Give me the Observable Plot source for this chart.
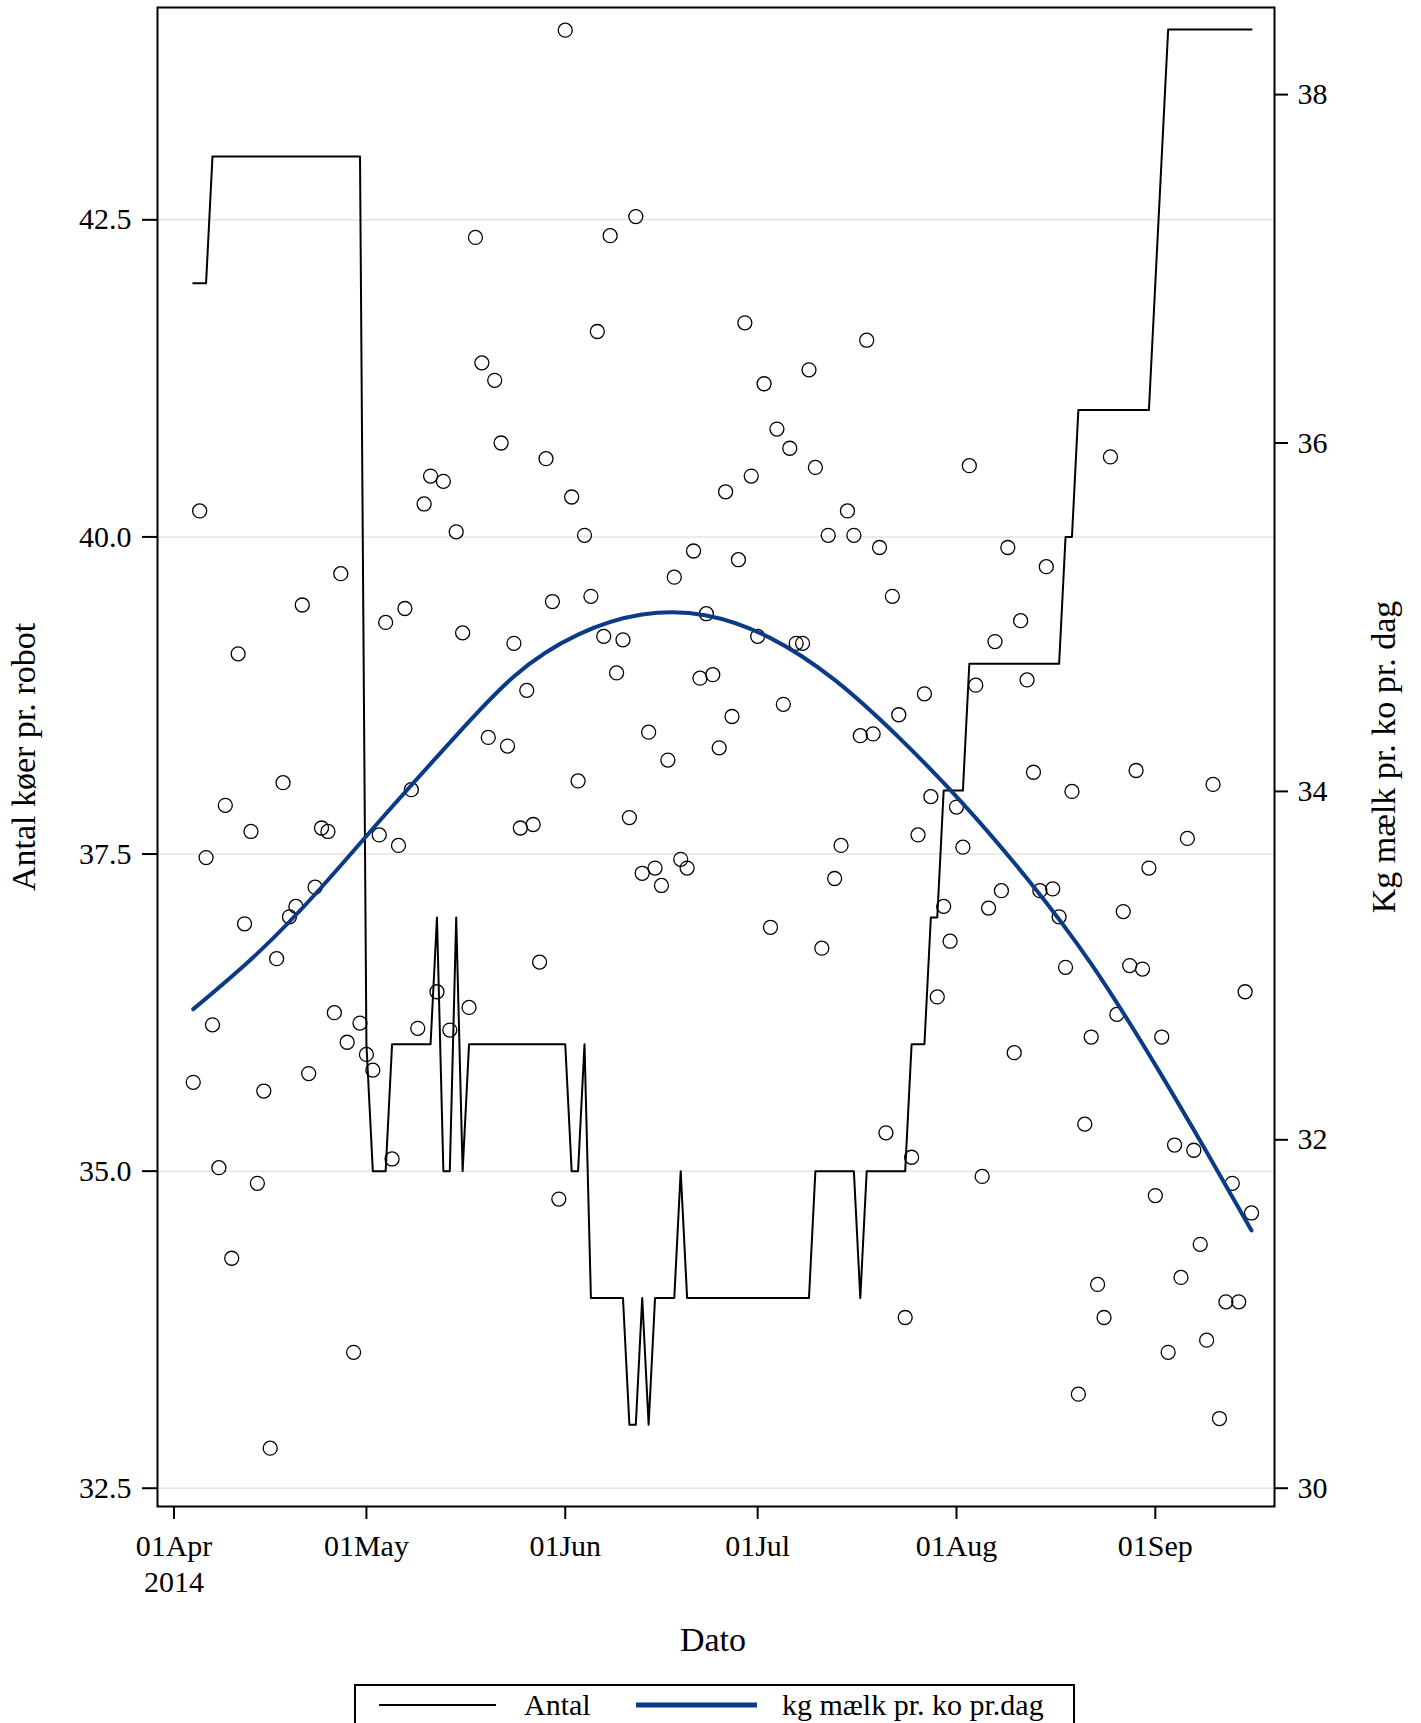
<!DOCTYPE html>
<html><head><meta charset="utf-8">
<script src="https://cdn.jsdelivr.net/npm/d3@7"></script>
<script src="https://cdn.jsdelivr.net/npm/@observablehq/plot@0.6"></script>
<style>
body{margin:0;background:#fff;}
#wrap{position:relative;width:1421px;height:1723px;overflow:hidden;font-family:"Liberation Serif","Times New Roman",serif;}
#wrap svg.layer{position:absolute;left:0;top:0;}
#wrap svg.layer text{font-family:"Liberation Serif","Times New Roman",serif;}
#legend{position:absolute;left:354px;top:1684px;width:721px;height:60px;border:2px solid #000;box-sizing:border-box;background:#fff;}
</style></head><body><div id="wrap"></div>
<script>
// ---- Data ----
// Antal køer pr. robot (vertices of the daily line)
const antalDates = ["2014-04-04","2014-04-06","2014-04-07","2014-04-30","2014-05-01","2014-05-02","2014-05-04","2014-05-05","2014-05-11","2014-05-12","2014-05-13","2014-05-14","2014-05-15","2014-05-16","2014-05-17","2014-06-01","2014-06-02","2014-06-03","2014-06-04","2014-06-05","2014-06-10","2014-06-11","2014-06-12","2014-06-13","2014-06-14","2014-06-15","2014-06-18","2014-06-19","2014-06-20","2014-07-09","2014-07-10","2014-07-16","2014-07-17","2014-07-18","2014-07-24","2014-07-25","2014-07-27","2014-07-28","2014-07-29","2014-07-30","2014-08-02","2014-08-03","2014-08-17","2014-08-18","2014-08-19","2014-08-20","2014-08-31","2014-09-03","2014-09-16"];
const antalValues = [42,42,43,43,36,35,35,36,36,37,35,35,37,35,36,36,35,35,36,34,34,33,33,34,33,34,34,35,34,34,35,35,34,35,35,36,36,37,37,38,38,39,39,40,40,41,41,44,44];

// Kg mælk pr. ko pr. dag, daily from 2014-04-04 to 2014-09-16
const milkFirstDay = "2014-04-04";
const milkLastDay = "2014-09-16";
const milkValues = [32.33,35.61,33.62,32.66,31.84,33.92,31.32,34.79,33.24,33.77,
31.75,32.28,30.23,33.04,34.05,33.28,33.34,35.07,32.38,33.45,
33.79,33.77,32.73,35.25,32.56,30.78,32.67,32.49,32.40,33.75,
34.97,31.89,33.69,35.05,34.01,32.64,35.65,35.81,32.85,35.78,
32.63,35.49,34.91,32.76,37.18,36.46,34.31,36.36,36.00,34.26,
34.85,33.79,34.58,33.81,33.02,35.91,35.09,31.66,38.37,35.69,
34.06,35.47,35.12,36.64,34.89,37.19,34.68,34.87,33.85,37.30,
33.53,34.34,33.56,33.46,34.18,35.23,33.61,33.56,35.38,34.65,
35.02,34.67,34.25,35.72,34.43,35.33,36.69,35.81,34.89,36.34,
33.22,36.08,34.50,35.97,34.85,34.85,36.42,35.86,33.10,35.47,
33.50,33.69,35.61,35.47,34.32,36.59,34.33,35.40,32.04,35.12,
34.44,30.98,31.90,33.75,34.56,33.97,32.82,33.34,33.14,33.91,
33.68,35.87,34.61,31.79,33.33,34.86,33.43,35.40,32.50,34.98,
34.64,34.11,33.43,35.29,33.44,33.28,32.99,34.00,30.54,32.09,
32.59,31.17,30.98,35.92,32.72,33.31,33.00,34.12,32.98,33.56,
31.68,32.59,30.78,31.97,31.21,33.73,31.94,31.40,30.85,34.04,
30.40,31.07,31.75,31.07,32.85,31.58];

// Fitted curve kg mælk pr. ko pr.dag
const fitDates = ["2014-04-04","2014-04-14","2014-04-24","2014-05-04","2014-05-14","2014-05-24","2014-06-03","2014-06-13","2014-06-23","2014-07-03","2014-07-13","2014-07-23","2014-08-02","2014-08-12","2014-08-22","2014-09-01","2014-09-09","2014-09-16"];
const fitValues = [32.75,33.07,33.45,33.87,34.28,34.66,34.90,35.015,35.01,34.88,34.64,34.31,33.93,33.50,33.01,32.43,31.93,31.48];

// Axis ticks and labels
const leftTicks = [32.5,35.0,37.5,40.0,42.5];
const rightTicks = [30,32,34,36,38];
const monthTicks = ["2014-04-01","2014-05-01","2014-06-01","2014-07-01","2014-08-01","2014-09-01"];
const monthLabels = ["01Apr\n2014","01May","01Jun","01Jul","01Aug","01Sep"];
const yLabelLeft = "Antal køer pr. robot";
const yLabelRight = "Kg mælk pr. ko pr. dag";
const xLabel = "Dato";
const seriesNames = ["Antal","kg mælk pr. ko pr.dag"];
const seriesColors = ["#000000","#0b3b86"];

// ---- Build tables ----
const antal = antalDates.map((d,i)=>({date:new Date(d), value:antalValues[i]}));
const milkDays = d3.utcDays(new Date(milkFirstDay), d3.utcDay.offset(new Date(milkLastDay),1));
const milk = milkValues.map((v,i)=>({date:milkDays[i], kg:v}));
const fit = fitDates.map((d,i)=>({date:new Date(d), kg:fitValues[i]}));
const monthDates = monthTicks.map(d=>new Date(d));
const labelByTime = new Map(monthDates.map((d,i)=>[+d, monthLabels[i]]));

const W=1421, H=1670, mL=157, mR=147, mT=7, mB=164;
const xDomain=[new Date("2014-03-29T10:15Z"), new Date("2014-09-19T13:55Z")];
const font = "'Liberation Serif','Times New Roman',serif";

const common = {width:W, height:H, marginLeft:mL, marginRight:mR, marginTop:mT, marginBottom:mB,
  style:{fontFamily:font, fontSize:"30px", color:"#000", background:"transparent", overflow:"visible"}};

const plotA = Plot.plot({...common,
  x:{type:"utc", domain:xDomain},
  y:{domain:[32.356,44.174]},
  marks:[
    Plot.gridY(leftTicks,{stroke:"#e4e4e4", strokeOpacity:1, strokeWidth:1.5}),
    Plot.axisY(leftTicks,{anchor:"left", tickSize:15, tickPadding:11, tickFormat:d3.format(".1f"), label:null, strokeWidth:2}),
    Plot.axisX(monthDates,{anchor:"bottom", tickSize:13, tickPadding:11, tickFormat:d=>labelByTime.get(+d), label:null, strokeWidth:2, lineHeight:1.2}),
    Plot.line(antal,{x:"date", y:"value", stroke:seriesColors[0], strokeWidth:2}),
    Plot.text([yLabelLeft],{text:d=>d, frameAnchor:"left", textAnchor:"middle", rotate:-90, dx:-133, fontSize:34}),
    Plot.text([xLabel],{text:d=>d, frameAnchor:"bottom", textAnchor:"middle", dx:-3, dy:144, fontSize:34}),
    Plot.frame({stroke:"#000", strokeWidth:2})
  ]
});
plotA.classList.add("layer");

const plotB = Plot.plot({...common,
  x:{type:"utc", domain:xDomain, axis:null},
  y:{domain:[29.895,38.5]},
  marks:[
    Plot.axisY(rightTicks,{anchor:"right", tickSize:13, tickPadding:10, tickFormat:d=>String(d), label:null, strokeWidth:2}),
    Plot.dot(milk,{x:"date", y:"kg", r:7, stroke:"#000", strokeWidth:1.3, fill:"none"}),
    Plot.line(fit,{x:"date", y:"kg", stroke:seriesColors[1], strokeWidth:4, curve:"natural"}),
    Plot.text([yLabelRight],{text:d=>d, frameAnchor:"right", textAnchor:"middle", rotate:-90, dx:110, fontSize:34})
  ]
});
plotB.classList.add("layer");

const wrap = document.getElementById("wrap");
wrap.appendChild(plotA);
wrap.appendChild(plotB);

// ---- Legend ----
const legend = document.createElement("div");
legend.id = "legend";
const ns = "http://www.w3.org/2000/svg";
const ls = document.createElementNS(ns,"svg");
ls.setAttribute("width","717"); ls.setAttribute("height","56");
ls.style.display="block";
const items = [
  {x1:23,x2:140,tx:168,w:2},
  {x1:280,x2:401,tx:426,w:5}
];
items.forEach((it,i)=>{
  const l = document.createElementNS(ns,"line");
  l.setAttribute("x1",it.x1); l.setAttribute("x2",it.x2);
  l.setAttribute("y1",19); l.setAttribute("y2",19);
  l.setAttribute("stroke",seriesColors[i]); l.setAttribute("stroke-width",it.w);
  ls.appendChild(l);
  const t = document.createElementNS(ns,"text");
  t.setAttribute("x",it.tx); t.setAttribute("y",29);
  t.setAttribute("font-family",font); t.setAttribute("font-size","30");
  t.textContent = seriesNames[i];
  ls.appendChild(t);
});
legend.appendChild(ls);
wrap.appendChild(legend);
</script></body></html>
